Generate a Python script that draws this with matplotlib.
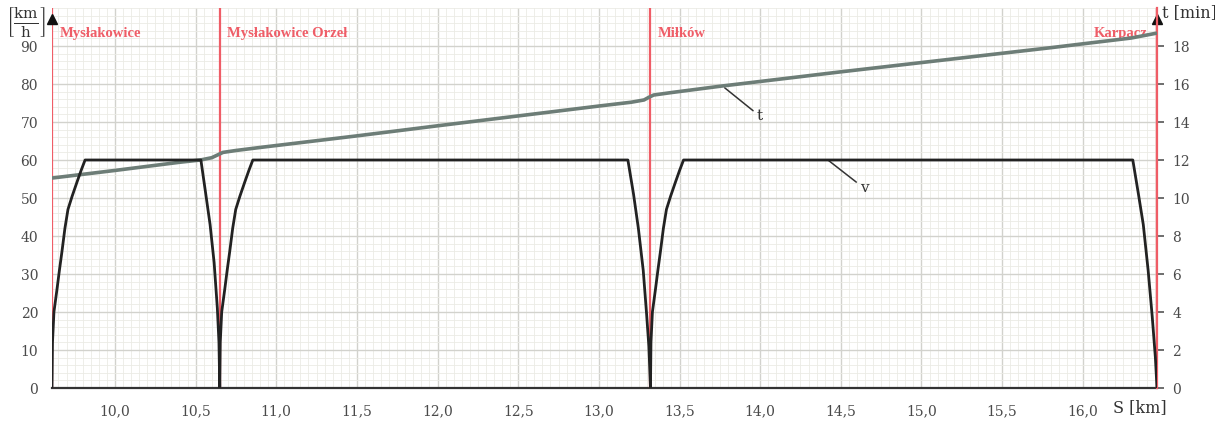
import matplotlib
matplotlib.use("Agg")
import matplotlib.pyplot as plt
from matplotlib.ticker import MultipleLocator, FuncFormatter

# ------------------------------------
# Data
# ------------------------------------

stations = ["Mysłakowice", "Mysłakowice Orzeł", "Miłków", "Karpacz"]
station_km = [9.61, 10.65, 13.32, 16.46]

# speed v [km/h] along the route
v_km = [9.61, 9.613, 9.622, 9.641, 9.656, 9.672, 9.69, 9.709, 9.735, 9.765, 9.79, 9.815,
        10.533, 10.56, 10.59, 10.615, 10.635, 10.645, 10.65,
        10.653, 10.662, 10.681, 10.696, 10.712, 10.73, 10.749, 10.775, 10.805, 10.83, 10.855,
        13.18, 13.215, 13.245, 13.275, 13.295, 13.31, 13.32,
        13.323, 13.332, 13.351, 13.366, 13.382, 13.4, 13.419, 13.445, 13.475, 13.5, 13.525,
        16.31, 16.345, 16.375, 16.405, 16.43, 16.45, 16.46]
v_kmh = [0, 12, 20, 26, 31, 36, 42, 47, 50.5, 54.2, 57.2, 60,
         60, 52, 43, 33, 21, 12, 0,
         12, 20, 26, 31, 36, 42, 47, 50.5, 54.2, 57.2, 60,
         60, 51, 42, 31, 20, 11, 0,
         12, 20, 26, 31, 36, 42, 47, 50.5, 54.2, 57.2, 60,
         60, 51, 43, 31, 19, 8, 0]

# travel time t [min]
t_km = [9.61, 10.00, 10.40, 10.53, 10.60, 10.64, 10.67, 10.75, 10.90, 11.50, 12.00,
        12.50, 13.00, 13.20, 13.28, 13.31, 13.34, 13.45, 13.75, 14.50, 15.80, 16.30, 16.46]
t_min = [11.05, 11.45, 11.88, 12.00, 12.12, 12.28, 12.40, 12.50, 12.66, 13.27, 13.80,
         14.32, 14.84, 15.04, 15.16, 15.30, 15.42, 15.55, 15.88, 16.64, 17.91, 18.42, 18.68]

x_ticks = [10.0, 10.5, 11.0, 11.5, 12.0, 12.5, 13.0, 13.5, 14.0, 14.5, 15.0, 15.5, 16.0]
v_ticks = [0, 10, 20, 30, 40, 50, 60, 70, 80, 90]
t_ticks = [0, 2, 4, 6, 8, 10, 12, 14, 16, 18]

# ------------------------------------
# Style
# ------------------------------------

RED = "#ef5d67"
TXT = "#4a4a4a"
serif = "DejaVu Serif"
label_font = "Liberation Serif"
plt.rcParams["mathtext.fontset"] = "dejavuserif"

fig = plt.figure(figsize=(12.15, 4.21), dpi=100)
ax = fig.add_axes([52 / 1215, 33 / 421, 1105 / 1215, 380 / 421])

ax.set_xlim(9.61, 16.46)
ax.set_ylim(0, 100)

ax.xaxis.set_major_locator(MultipleLocator(0.5))
ax.xaxis.set_minor_locator(MultipleLocator(0.05))
ax.yaxis.set_major_locator(MultipleLocator(10))
ax.yaxis.set_minor_locator(MultipleLocator(2))
ax.grid(which="major", color="#d2d2cd", linewidth=1.0)
ax.grid(which="minor", color="#ebebe5", linewidth=0.6)
ax.set_axisbelow(True)

ax.set_xticks(x_ticks)
ax.xaxis.set_major_formatter(FuncFormatter(lambda x, p: f"{x:.1f}".replace(".", ",")))
ax.set_yticks(v_ticks)
ax.tick_params(axis="x", length=0, pad=12, labelsize=10, labelcolor=TXT)
ax.tick_params(axis="y", length=0, pad=10, labelsize=10, labelcolor=TXT)
ax.tick_params(which="minor", length=0)
for lab in ax.get_xticklabels() + ax.get_yticklabels():
    lab.set_fontfamily(serif)

for s in ["top", "right", "left"]:
    ax.spines[s].set_visible(False)
ax.spines["bottom"].set_color("#333333")
ax.spines["bottom"].set_linewidth(1.6)

# station lines and names
for name, km in zip(stations, station_km):
    ax.axvline(km, color=RED, linewidth=1.6, zorder=3)
for i, (name, km) in enumerate(zip(stations, station_km)):
    if i == len(stations) - 1:
        ax.text(km - 0.06, 93.4, name, color=RED, fontsize=10.5, family=label_font,
                weight="bold", ha="right", va="center", zorder=5)
    else:
        ax.text(km + 0.045, 93.4, name, color=RED, fontsize=10.5, family=label_font,
                weight="bold", ha="left", va="center", zorder=5)

# curves
ax2 = ax.twinx()
ax2.set_ylim(0, 20)
ax2.set_yticks(t_ticks)
ax2.tick_params(axis="y", length=5, width=1.2, color="#555555", pad=6,
                labelsize=10, labelcolor=TXT)
for lab in ax2.get_yticklabels():
    lab.set_fontfamily(serif)
for s in ["top", "left", "bottom"]:
    ax2.spines[s].set_visible(False)
ax2.spines["right"].set_color(RED)
ax2.spines["right"].set_linewidth(1.6)

ax2.plot(t_km, t_min, color="#6d7d77", linewidth=2.6, zorder=4, solid_capstyle="butt")
ax2.plot(v_km, [v / 5 for v in v_kmh], color="#222222", linewidth=2.0, zorder=5)

# curve labels with leader lines
ax.annotate("t", xy=(13.78, 79.0), xytext=(13.98, 71.5), fontsize=11, family=serif,
            color="#333333", ha="left", va="center",
            arrowprops=dict(arrowstyle="-", color="#333333", linewidth=1.1,
                            shrinkA=1, shrinkB=0))
ax.annotate("v", xy=(14.42, 60.0), xytext=(14.62, 52.5), fontsize=11, family=serif,
            color="#333333", ha="left", va="center",
            arrowprops=dict(arrowstyle="-", color="#333333", linewidth=1.1,
                            shrinkA=1, shrinkB=0))

# axis arrows
ax.plot([0, 1], [0.972, 0.972], transform=ax.transAxes, linestyle="none",
        marker="^", markersize=7, color="#111111", clip_on=False, zorder=6)

# unit labels
fig.text(26 / 1215, 1 - 23 / 421, r"$\left[\frac{\mathrm{km}}{\mathrm{h}}\right]$",
         fontsize=15.5, ha="center", va="center", color="#333333")
fig.text(1162 / 1215, 1 - 13 / 421, "t [min]", fontsize=11.5, family=serif,
         ha="left", va="center", color="#333333")
fig.text(1113 / 1215, 1 - 408 / 421, "S [km]", fontsize=11.5, family=serif,
         ha="left", va="center", color="#333333")

fig.savefig("out.png", dpi=100)
